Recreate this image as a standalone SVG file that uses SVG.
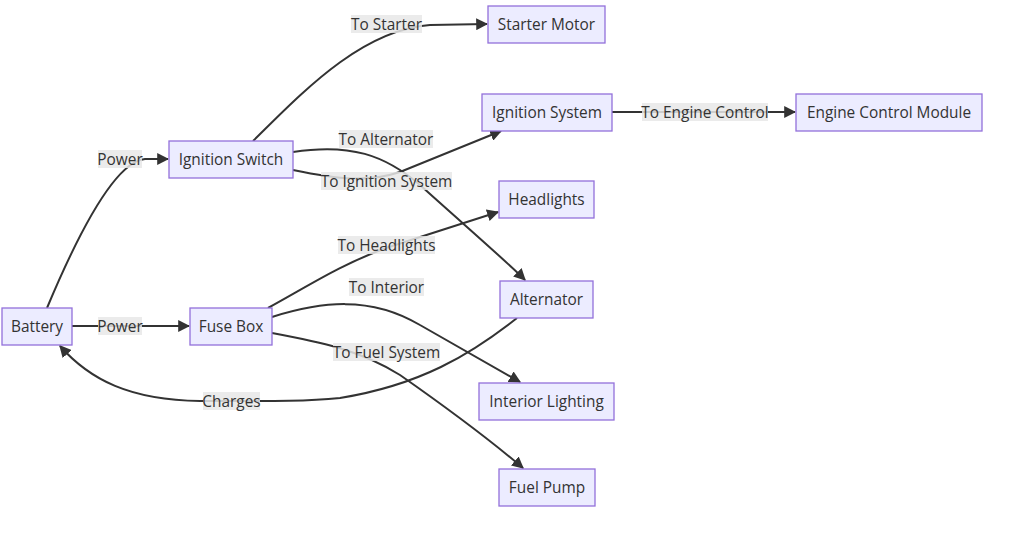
<svg xmlns="http://www.w3.org/2000/svg" width="1022" height="536" viewBox="0 0 1022 536">
<style>
.node rect{fill:#ECECFF;stroke:#9370DB;stroke-width:1.3}
text{font-family:"Open Sans","Liberation Sans",sans-serif;font-size:15.4px;fill:#333;text-anchor:middle;dominant-baseline:central}
.edge{fill:none;stroke:#333;stroke-width:2}
.lbl rect{fill:#e8e8e8;opacity:0.85}
</style>
<defs>
<marker id="arr" viewBox="0 0 10 10" refX="9" refY="5" markerUnits="userSpaceOnUse" markerWidth="12" markerHeight="12" orient="auto">
<path d="M0,0 L10,5 L0,10 z" fill="#333"/>
</marker>
</defs>
<rect width="1022" height="536" fill="#fff"/>
<g id="connectors">
<path class="edge" d="M47,308 C65,265 110,162 145,159 L168,159" marker-end="url(#arr)"/>
<path class="edge" d="M72,326 L189,326" marker-end="url(#arr)"/>
<path class="edge" d="M253,141 C300,95 360,30 430,25 L487,24" marker-end="url(#arr)"/>
<path class="edge" d="M293,152 C350,143 385,155 420,185 C470,230 505,260 525,280" marker-end="url(#arr)"/>
<path class="edge" d="M293,170 C340,180 370,182 400,172 L501,131" marker-end="url(#arr)"/>
<path class="edge" d="M612,112 L795,112" marker-end="url(#arr)"/>
<path class="edge" d="M268,308 C310,285 340,265 386,248 L498,212" marker-end="url(#arr)"/>
<path class="edge" d="M272,317 C320,302 370,295 420,325 L520,382" marker-end="url(#arr)"/>
<path class="edge" d="M272,333 C320,342 360,350 400,375 C450,410 490,440 523,468" marker-end="url(#arr)"/>
<path class="edge" d="M517,318 C470,355 420,385 340,398 C300,402 260,401 200,401 C130,400 90,380 60,346" marker-end="url(#arr)"/>
</g>
<g id="edge-labels">
<g class="lbl"><rect x="98" y="150" width="44" height="18"/><text x="120" y="159.5">Power</text></g>
<g class="lbl"><rect x="98" y="317" width="44" height="18"/><text x="120" y="326.5">Power</text></g>
<g class="lbl"><rect x="351" y="15" width="71" height="18"/><text x="386.5" y="24.5">To Starter</text></g>
<g class="lbl"><rect x="339" y="130" width="94" height="18"/><text x="386" y="139.5">To Alternator</text></g>
<g class="lbl"><rect x="321" y="172" width="131" height="18"/><text x="386.5" y="181.5">To Ignition System</text></g>
<g class="lbl"><rect x="642" y="103" width="126" height="18"/><text x="705" y="112.5">To Engine Control</text></g>
<g class="lbl"><rect x="338" y="236" width="97" height="18"/><text x="386.5" y="245.5">To Headlights</text></g>
<g class="lbl"><rect x="349" y="278" width="75" height="18"/><text x="386.5" y="287.5">To Interior</text></g>
<g class="lbl"><rect x="333" y="343" width="107" height="18"/><text x="386.5" y="352.5">To Fuel System</text></g>
<g class="lbl"><rect x="203" y="392" width="57" height="18"/><text x="231.5" y="401.5">Charges</text></g>
</g>
<g id="battery" class="node"><rect x="2" y="308" width="70" height="37"/><text x="37" y="326.5">Battery</text></g>
<g id="fuse-box" class="node"><rect x="190" y="308" width="82" height="37"/><text x="231" y="326.5">Fuse Box</text></g>
<g id="ignition-switch" class="node"><rect x="169" y="141" width="124" height="37"/><text x="231" y="159.5">Ignition Switch</text></g>
<g id="starter-motor" class="node"><rect x="488" y="6" width="117" height="37"/><text x="546.5" y="24.5">Starter Motor</text></g>
<g id="ignition-system" class="node"><rect x="482" y="94" width="130" height="37"/><text x="547" y="112.5">Ignition System</text></g>
<g id="ecm" class="node"><rect x="796" y="94" width="186" height="37"/><text x="889" y="112.5">Engine Control Module</text></g>
<g id="headlights" class="node"><rect x="499" y="181" width="95" height="37"/><text x="546.5" y="199.5">Headlights</text></g>
<g id="alternator" class="node"><rect x="500" y="281" width="93" height="37"/><text x="546.5" y="299.5">Alternator</text></g>
<g id="interior-lighting" class="node"><rect x="479" y="383" width="135" height="37"/><text x="546.5" y="401.5">Interior Lighting</text></g>
<g id="fuel-pump" class="node"><rect x="499" y="469" width="96" height="37"/><text x="547" y="487.5">Fuel Pump</text></g>
</svg>
